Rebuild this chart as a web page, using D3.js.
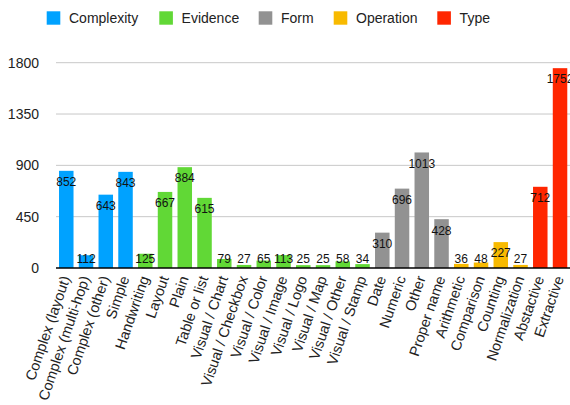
<!DOCTYPE html>
<html><head><meta charset="utf-8">
<script src="https://cdn.jsdelivr.net/npm/d3@7"></script>
<style>body{margin:0;background:#fff}svg{display:block}text{font-family:"Liberation Sans",Arial,Helvetica,sans-serif}</style>
</head><body><svg id="c" width="570" height="405"></svg>
<script>
const categories = ["Complex (layout)","Complex (multi-hop)","Complex (other)","Simple","Handwriting","Layout","Plain","Table or list","Visual / Chart","Visual / Checkbox","Visual / Color","Visual / Image","Visual / Logo","Visual / Map","Visual / Other","Visual / Stamp","Date","Numeric","Other","Proper name","Arithmetic","Comparison","Counting","Normalization","Abstactive","Extractive"];
const values = [852,112,643,843,125,667,884,615,79,27,65,113,25,25,58,34,310,696,1013,428,36,48,227,27,712,1752];
const groups = ["Complexity","Complexity","Complexity","Complexity","Evidence","Evidence","Evidence","Evidence","Evidence","Evidence","Evidence","Evidence","Evidence","Evidence","Evidence","Evidence","Form","Form","Form","Form","Operation","Operation","Operation","Operation","Type","Type"];
const seriesNames = ["Complexity","Evidence","Form","Operation","Type"];
const seriesColors = ["#00a2ff","#61d836","#929292","#f8ba00","#ff2600"];
const yTicks = [0,450,900,1350,1800];

const svg = d3.select("#c");
const color = d3.scaleOrdinal().domain(seriesNames).range(seriesColors);
const x = d3.scaleBand().domain(d3.range(categories.length)).range([56,570.3]).paddingInner(0.266).paddingOuter(0.153);
const y = d3.scaleLinear().domain([0,1800]).range([268,62.7]);

// grid
svg.append("g").selectAll("line").data(yTicks.slice(1)).join("line")
  .attr("x1",56).attr("x2",570).attr("y1",d=>y(d)).attr("y2",d=>y(d))
  .attr("stroke","#c8c8c8").attr("stroke-width",1);
svg.append("g").selectAll("text").data(yTicks).join("text")
  .attr("x",39).attr("y",d=>y(d)).attr("dy","0.36em").attr("text-anchor","end")
  .attr("font-size",14).attr("fill","#222").text(d=>d);

// bars
svg.append("g").selectAll("rect").data(values).join("rect")
  .attr("x",(d,i)=>x(i)).attr("width",x.bandwidth())
  .attr("y",d=>y(d)).attr("height",d=>y(0)-y(d))
  .attr("fill",(d,i)=>color(groups[i]));

// axis line
svg.append("line").attr("x1",56).attr("x2",570).attr("y1",y(0)).attr("y2",y(0)).attr("stroke","#000").attr("stroke-width",1.5);

// value labels
svg.append("g").selectAll("text").data(values).join("text")
  .attr("x",(d,i)=>x(i)+x.bandwidth()/2)
  .attr("y",d=>Math.min(y(d)+11,259)).attr("dy","0.36em")
  .attr("text-anchor","middle").attr("font-size",12).attr("fill","#111").text(d=>d);

// category labels
svg.append("g").selectAll("text").data(categories).join("text")
  .attr("transform",(d,i)=>`translate(${x(i)+x.bandwidth()/2+4},${278}) rotate(-71)`)
  .attr("text-anchor","end").attr("font-size",14.5).attr("fill","#222").text(d=>d);

// legend
const legX = [46.7,159.3,258.7,333.7,437.3];
const leg = svg.append("g").selectAll("g").data(seriesNames).join("g")
  .attr("transform",(d,i)=>`translate(${legX[i]},11.3)`);
leg.append("rect").attr("width",13.6).attr("height",13.4).attr("fill",d=>color(d));
leg.append("text").attr("x",22.3).attr("y",12).attr("font-size",14).attr("fill","#222").text(d=>d);
</script></body></html>
